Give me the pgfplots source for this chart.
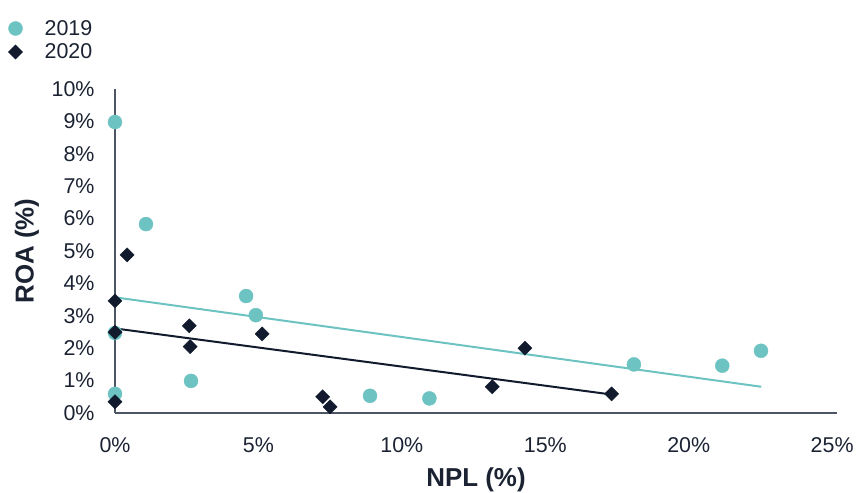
\documentclass[border=0pt]{standalone}
\usepackage{pgfplots}
\pgfplotsset{compat=1.18}
\usepackage{fontspec}
\setmainfont{Liberation Sans}
\definecolor{teal19}{HTML}{6CC3C1}
\definecolor{navy20}{HTML}{111B2D}
\definecolor{axisgray}{HTML}{4D5564}
\definecolor{txt}{HTML}{1B2333}
\begin{document}
\begin{tikzpicture}[x=1bp,y=1bp]
\path[use as bounding box] (0,0) rectangle (859,493);
\begin{axis}[
  at={(115bp,80bp)}, anchor=south west,
  scale only axis, width=722bp, height=324bp,
  xmin=0, xmax=25.17, ymin=0, ymax=10,
  axis x line=bottom, axis y line=left,
  axis line style={-, axisgray, line width=1.3bp},
  xtick={0,5,10,15,20,25},
  xticklabels={0\%,5\%,10\%,15\%,20\%,25\%},
  ytick={0,1,...,10},
  yticklabels={0\%,1\%,2\%,3\%,4\%,5\%,6\%,7\%,8\%,9\%,10\%},
  major tick length=0pt,
  tick label style={font=\fontsize{21.5}{23}\selectfont, text=txt},
  xticklabel style={yshift=-21bp},
  yticklabel style={xshift=-17bp},
  /pgf/number format/assume math mode=true,
  xlabel={NPL (\%)}, ylabel={ROA (\%)},
  label style={font=\bfseries\fontsize{26}{28}\selectfont, text=txt},
  xlabel style={at={(axis description cs:0.5,-0.207)}, anchor=center},
  ylabel style={at={(axis description cs:-0.122,0.5)}, anchor=center},
  clip=false,
  legend style={draw=none, fill=none, at={(axis description cs:-0.152,1.225)}, anchor=north west,
    font=\fontsize{21.5}{23}\selectfont, text=txt, row sep=3bp, nodes={inner sep=2bp}},
  legend cell align=left,
  legend image code/.code={\draw[#1] (0bp,0bp) -- plot coordinates {(0bp,0bp)};},
]
\addplot[teal19, line width=2bp, forget plot] coordinates {(0,3.57) (22.53,0.81)};
\addplot[navy20, line width=2bp, forget plot] coordinates {(0,2.61) (17.31,0.57)};
\addplot[only marks, mark=*, mark size=7bp, color=teal19, mark options={draw=teal19, fill=teal19}] coordinates {
(0,8.98) (1.08,5.83) (0,2.47) (0,0.59) (2.65,0.99) (4.57,3.61) (4.91,3.02)
(8.89,0.53) (10.96,0.45) (18.09,1.50) (21.17,1.46) (22.52,1.92)};
\addlegendentry{\hspace{20bp}2019}
\addplot[only marks, mark=square*, mark size=5bp, color=navy20, mark options={rotate=45, draw=navy20, fill=navy20}] coordinates {
(0,3.46) (0.42,4.88) (0,2.49) (2.59,2.69) (2.62,2.05) (5.13,2.44) (0,0.35)
(7.24,0.50) (7.50,0.19) (13.15,0.81) (14.29,2.00) (17.31,0.59)};
\addlegendentry{\hspace{20bp}2020}
\end{axis}
\end{tikzpicture}
\end{document}
